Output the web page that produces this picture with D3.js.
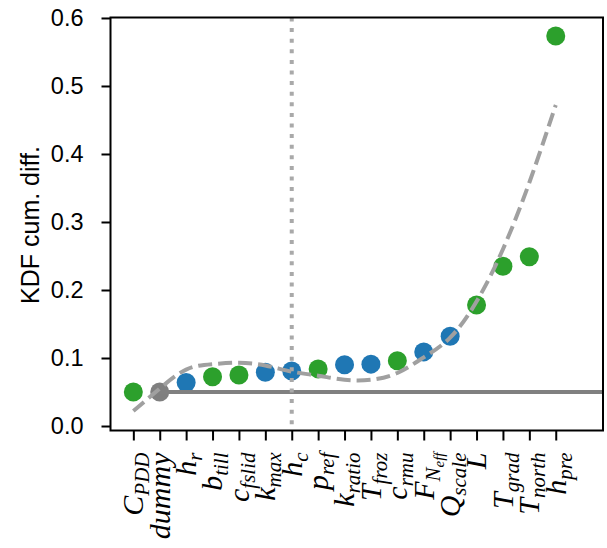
<!DOCTYPE html>
<html>
<head>
<meta charset="utf-8">
<script src="https://cdn.jsdelivr.net/npm/d3@7"></script>
<style>
  html, body { margin: 0; padding: 0; background: #fff; }
  svg { display: block; }
</style>
</head>
<body>
<svg id="chart" width="607" height="548"></svg>
<script>
// ---- data ----
const labelMain   = ["C", "dummy", "h", "b", "c", "k", "h", "p", "k", "T", "c", "F", "Q", "L", "T", "T", "h"];
const labelSub    = ["PDD", "", "r", "till", "fslid", "max", "c", "ref", "ratio", "froz", "rmu", "N", "scale", "", "grad", "north", "pre"];
const labelSubSub = ["", "", "", "", "", "", "", "", "", "", "", "eff", "", "", "", "", ""];
const kdfValues   = [0.050, 0.050, 0.064, 0.0725, 0.075, 0.079, 0.081, 0.084, 0.090, 0.091, 0.096, 0.109, 0.132, 0.178, 0.235, 0.249, 0.5735];
const groups      = ["green", "dummy", "blue", "green", "green", "blue", "blue", "green", "blue", "blue", "green", "blue", "blue", "green", "green", "green", "green"];
const fitCurve    = [0.022, 0.055, 0.083, 0.091, 0.093, 0.089, 0.080, 0.074, 0.068, 0.068, 0.078, 0.101, 0.130, 0.183, 0.260, 0.358, 0.472];
const yTicks      = [0.0, 0.1, 0.2, 0.3, 0.4, 0.5, 0.6];
const cutoffIndex = 6;      // h_c
const dummyIndex  = 1;
const yLabel      = "KDF cum. diff.";

const groupColor = { green: "#2ca02c", blue: "#1f77b4", dummy: "#7f7f7f" };

// ---- layout ----
const svg = d3.select("#chart");
const mLeft = 110.5, mRight = 603, mTop = 17.5, mBottom = 430.5;

const x = d3.scaleLinear().domain([-0.865, 17.79]).range([mLeft, mRight]);
const y = d3.scaleLinear().domain([-0.0066, 0.6007]).range([mBottom, mTop]);

const idx = d3.range(labelMain.length);

// points
svg.append("g").selectAll("circle")
  .data(idx).join("circle")
  .attr("cx", i => x(i))
  .attr("cy", i => y(kdfValues[i]))
  .attr("r", 9.5)
  .attr("fill", i => groupColor[groups[i]]);

// horizontal dummy line
svg.append("line")
  .attr("x1", x(dummyIndex)).attr("x2", x.range()[1])
  .attr("y1", y(kdfValues[dummyIndex])).attr("y2", y(kdfValues[dummyIndex]))
  .attr("stroke", "#808080").attr("stroke-width", 4);

// vertical cutoff line
svg.append("line")
  .attr("x1", x(cutoffIndex)).attr("x2", x(cutoffIndex))
  .attr("y1", y.range()[1]).attr("y2", y.range()[0])
  .attr("stroke", "#a9a9a9").attr("stroke-width", 4)
  .attr("stroke-dasharray", "4,6.6");

// fitted curve
const line = d3.line()
  .x(i => x(i))
  .y(i => y(fitCurve[i]))
  .curve(d3.curveNatural);
svg.append("path")
  .attr("d", line(idx))
  .attr("fill", "none")
  .attr("stroke", "#a0a0a0")
  .attr("stroke-width", 4)
  .attr("stroke-dasharray", "14,6");

// axes
const yAxis = d3.axisLeft(y).tickValues(yTicks).tickFormat(d3.format(".1f")).tickSize(9).tickPadding(18);
const xAxis = d3.axisBottom(x).tickValues(idx).tickFormat("").tickSize(10);

const gy = svg.append("g").attr("transform", `translate(${mLeft},0)`).call(yAxis);
const gx = svg.append("g").attr("transform", `translate(0,${mBottom})`).call(xAxis);
[gx, gy].forEach(g => {
  g.select(".domain").remove();
  g.selectAll(".tick line").attr("stroke", "#000").attr("stroke-width", 2);
});
gy.selectAll(".tick text")
  .attr("font-family", "'Liberation Sans', Arial, sans-serif")
  .attr("font-size", 23.5).attr("fill", "#000");

// frame
svg.append("rect")
  .attr("x", mLeft).attr("y", mTop)
  .attr("width", mRight - mLeft).attr("height", mBottom - mTop)
  .attr("fill", "none").attr("stroke", "#000").attr("stroke-width", 2);

// x tick labels (rotated, math italic style)
const lbl = svg.append("g").selectAll("text")
  .data(idx).join("text")
  .attr("transform", i => `translate(${x(i)},${mBottom + 22}) rotate(-90)`)
  .attr("text-anchor", "end")
  .attr("dy", "0.33em")
  .attr("font-family", "'Liberation Serif', 'Times New Roman', serif")
  .attr("font-style", "italic")
  .attr("font-size", 30)
  .attr("fill", "#000");
lbl.append("tspan").text(i => labelMain[i]);
lbl.filter(i => labelSub[i]).append("tspan")
  .attr("font-size", 21).attr("dy", 6).text(i => labelSub[i]);
lbl.filter(i => labelSubSub[i]).append("tspan")
  .attr("font-size", 15).attr("dy", 4).text(i => labelSubSub[i]);

// y label
svg.append("text")
  .attr("transform", `translate(39,225) rotate(-90)`)
  .attr("text-anchor", "middle")
  .attr("font-family", "'Liberation Sans', Arial, sans-serif")
  .attr("font-size", 25)
  .attr("fill", "#000")
  .text(yLabel);
</script>
</body>
</html>
